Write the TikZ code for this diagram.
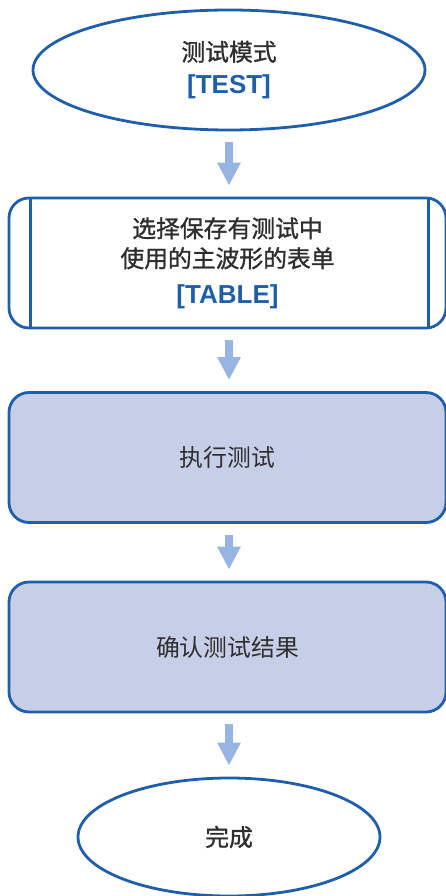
\documentclass[tikz,border=0pt]{standalone}
\usepackage{fontspec}
\setmainfont{Liberation Sans}
\newfontfamily\cjk{Noto Sans CJK SC}
\newfontfamily\cjkm{Noto Sans CJK SC}[FakeBold=1.2]
\usetikzlibrary{shapes.geometric,arrows.meta}
\definecolor{bd}{HTML}{1F5FAA}
\definecolor{fl}{HTML}{C6CEE8}
\definecolor{ar}{HTML}{97B5E0}
\definecolor{tx}{HTML}{2E2E2E}
\tikzset{
  base/.style={draw=bd, line width=2.8pt, text=tx, align=center, inner sep=0pt,
    font=\fontsize{23.8}{30}\selectfont},
  term/.style={base, ellipse},
  procbox/.style={base, rectangle, rounded corners=20pt, minimum width=437pt, minimum height=130pt},
  flow/.style={draw=ar, line width=8pt, -{Triangle[width=22pt,length=23pt]},
    shorten <=11pt, shorten >=11pt}
}
\newcommand\bluetag[1]{\textcolor{bd}{\fontsize{26}{30}\selectfont\bfseries #1}}
\begin{document}
\begin{tikzpicture}[x=1pt,y=-1pt]
\useasboundingbox (0,0) rectangle (446,896);
\begin{scope}
\clip (0,0) rectangle (446,896);
\node[term, minimum width=392pt, minimum height=120pt] (test) at (229,70)
  {\cjkm 测试模式\\[3pt]\bluetag{[TEST]}};
\node[procbox] (table) at (227.5,263)
  {\cjkm 选择保存有测试中\\\cjkm 使用的主波形的表单\\[6pt]\bluetag{[TABLE]}};
\draw[draw=bd, line width=2.8pt] (table.north west) ++(23pt,0) coordinate (tl) -- (tl |- table.south);
\draw[draw=bd, line width=2.8pt] (table.north east) ++(-19pt,0) coordinate (tr) -- (tr |- table.south);
\node[procbox, fill=fl] (run) at (227.5,457.5) {\cjk 执行测试};
\node[procbox, fill=fl] (check) at (227.5,647) {\cjk 确认测试结果};
\node[term, minimum width=302pt, minimum height=118pt] (done) at (229,837) {\cjkm 完成};
\end{scope}
\draw[flow] (test.south) -- (table.north -| test.south);
\draw[flow] (table.south -| test.south) -- (run.north -| test.south);
\draw[flow] (run.south -| test.south) -- (check.north -| test.south);
\draw[flow] (check.south -| test.south) -- (done.north);
\end{tikzpicture}
\end{document}
